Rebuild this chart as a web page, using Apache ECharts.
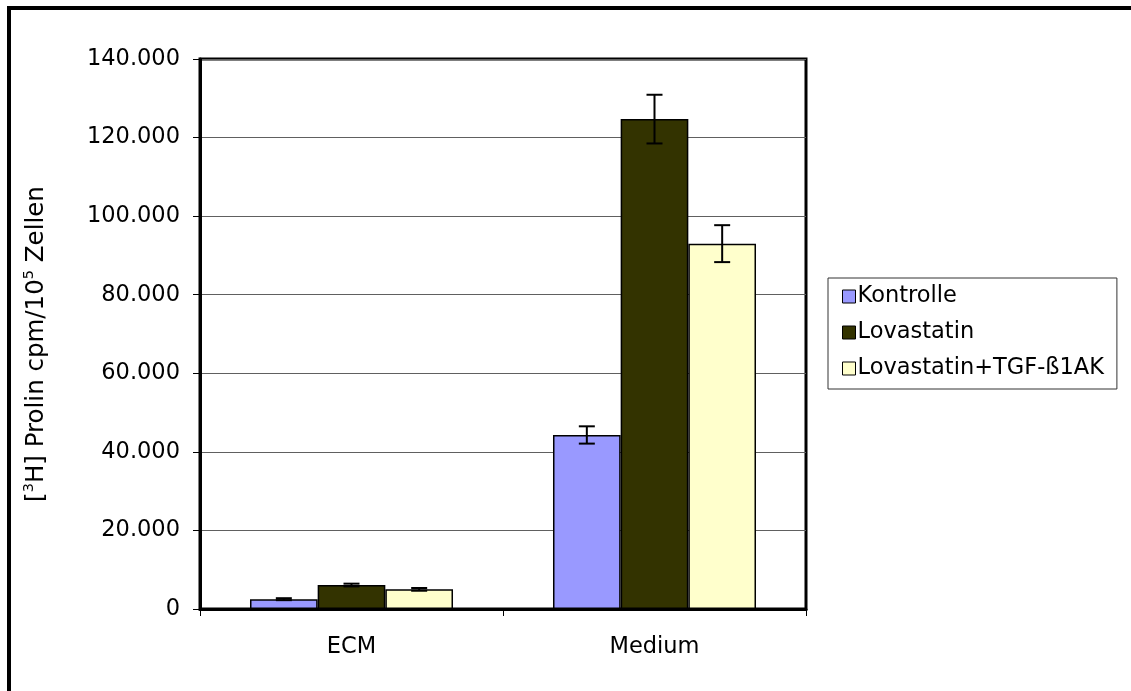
<!DOCTYPE html>
<html>
<head>
<meta charset="utf-8">
<script src="https://cdn.jsdelivr.net/npm/echarts@6/dist/echarts.min.js"></script>
<style>
  html, body { margin: 0; padding: 0; background: #fff; }
  #chart { width: 1131px; height: 691px; }
</style>
</head>
<body>
<div id="chart"></div>
<script>
// Groups and treatment series
const categories = ['ECM', 'Medium'];
const seriesNames = ['Kontrolle', 'Lovastatin', 'Lovastatin+TGF-ß1AK'];
const kontrolle = [2500, 44300];
const lovastatin = [6100, 124700];
const lovastatinTgf = [5000, 93000];
// Standard deviations for the error bars
const kontrolleErr = [250, 2200];
const lovastatinErr = [350, 6200];
const lovastatinTgfErr = [350, 4700];
const yTicks = [0, 20000, 40000, 60000, 80000, 100000, 120000, 140000];

const colors = ['#9999FF', '#333300', '#FFFFCC'];
const values = [kontrolle, lovastatin, lovastatinTgf];
const errors = [kontrolleErr, lovastatinErr, lovastatinTgfErr];
const FONT = 'DejaVu Sans, Verdana, sans-serif';
const FS = 22.5;
const NAME_FS = 24.5;
const CATEGORY_GAP = 0.33;

// German thousands separator: 20000 -> 20.000
function fmt(v) {
  if (v === 0) return '0';
  return String(v).replace(/\B(?=(\d{3})+(?!\d))/g, '.');
}

const chart = echarts.init(document.getElementById('chart'), null, { renderer: 'canvas' });

const barSeries = seriesNames.map((name, i) => ({
  name: name,
  type: 'bar',
  data: values[i],
  barGap: '0%',
  barCategoryGap: (CATEGORY_GAP * 100) + '%',
  itemStyle: { color: colors[i], borderColor: '#000', borderWidth: 1.5 },
  z: 2
}));

// Error bars drawn at the centre of each bar
const errSeries = seriesNames.map((name, i) => ({
  type: 'custom',
  name: name + ' SD',
  data: categories.map((c, k) => [k, values[i][k], errors[i][k]]),
  z: 5,
  silent: true,
  renderItem: function (params, api) {
    const k = api.value(0);
    const v = api.value(1);
    const e = api.value(2);
    const band = api.size([1, 0])[0];
    const barW = band * (1 - CATEGORY_GAP) / seriesNames.length;
    const centre = api.coord([k, v])[0] + (i - (seriesNames.length - 1) / 2) * barW;
    const top = api.coord([k, v + e])[1];
    const bot = api.coord([k, v - e])[1];
    const cap = 8;
    const style = { stroke: '#000', lineWidth: 2 };
    return {
      type: 'group',
      children: [
        { type: 'line', shape: { x1: centre, y1: top, x2: centre, y2: bot }, style: style },
        { type: 'line', shape: { x1: centre - cap, y1: top, x2: centre + cap, y2: top }, style: style },
        { type: 'line', shape: { x1: centre - cap, y1: bot, x2: centre + cap, y2: bot }, style: style }
      ]
    };
  }
}));

chart.setOption({
  animation: false,
  backgroundColor: '#fff',
  textStyle: { fontFamily: FONT },
  graphic: [{
    type: 'rect',
    shape: { x: 9, y: 8, width: 1300, height: 900 },
    style: { fill: 'none', stroke: '#000', lineWidth: 4 },
    z: 100
  }],
  grid: {
    left: 200, top: 59, right: 325, bottom: 82,
    show: true, borderColor: '#000', borderWidth: 3, backgroundColor: '#fff'
  },
  legend: {
    orient: 'vertical',
    left: 828, top: 278,
    data: seriesNames,
    icon: 'rect',
    itemWidth: 13, itemHeight: 13, itemGap: 13,
    padding: [7, 13, 9, 14],
    borderColor: '#333', borderWidth: 1,
    textStyle: { fontFamily: FONT, fontSize: FS, color: '#000', padding: [0, 0, 0, -3] },
    itemStyle: { borderColor: '#000', borderWidth: 1 }
  },
  xAxis: {
    type: 'category',
    data: categories,
    axisLine: { show: true, lineStyle: { color: '#000', width: 3 } },
    axisTick: { show: true, length: 7, lineStyle: { color: '#000', width: 1 } },
    axisLabel: { color: '#000', fontSize: FS, fontFamily: FONT, margin: 27 }
  },
  yAxis: {
    type: 'value',
    min: yTicks[0], max: yTicks[yTicks.length - 1], interval: yTicks[1] - yTicks[0],
    name: '{n|[}{s|3}{n|H] Prolin cpm/10}{s|5}{n| Zellen}',
    nameLocation: 'middle',
    nameGap: 151,
    nameTextStyle: {
      color: '#000', fontSize: NAME_FS, fontFamily: FONT,
      padding: [0, 20, 0, 0],
      rich: {
        n: { fontSize: NAME_FS, fontFamily: FONT, color: '#000', lineHeight: 27, verticalAlign: 'bottom' },
        s: { fontSize: 14.5, fontFamily: FONT, color: '#000', lineHeight: 27, verticalAlign: 'top' }
      }
    },
    axisLine: { show: true, lineStyle: { color: '#000', width: 3 } },
    axisTick: { show: true, length: 7, lineStyle: { color: '#000', width: 1 } },
    axisLabel: { color: '#000', fontSize: FS, fontFamily: FONT, margin: 20, formatter: fmt },
    splitLine: { show: true, lineStyle: { color: '#606060', width: 1 } }
  },
  series: barSeries.concat(errSeries)
});
</script>
</body>
</html>
